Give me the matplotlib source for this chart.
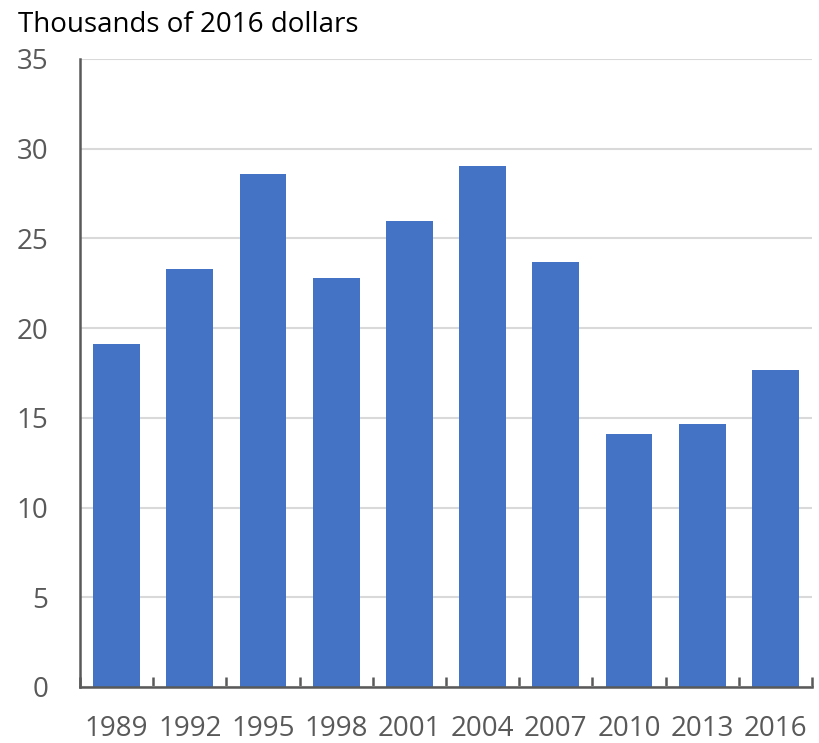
import numpy as np
import matplotlib.pyplot as plt

plt.rcParams['font.family'] = ['Open Sans', 'DejaVu Sans']

# Values (thousands of 2016 dollars)
years = ['1989', '1992', '1995', '1998', '2001', '2004', '2007', '2010', '2013', '2016']
values = [19.1, 23.3, 28.6, 22.8, 25.95, 29.05, 23.7, 14.1, 14.65, 17.65]
y_ticks = [0, 5, 10, 15, 20, 25, 30, 35]

bar_color = '#4472c4'
axis_color = '#595959'
grid_color = '#d9d9d9'

fig = plt.figure(figsize=(8.19, 7.43), dpi=100)
ax = fig.add_axes([0.0977, 0.0754, 0.8937, 0.8452])

x = np.arange(len(years))
ax.bar(x, values, width=0.64, color=bar_color, zorder=2)

ax.set_xlim(-0.5, len(years) - 0.5)
ax.set_ylim(0, 35)
ax.set_yticks(y_ticks)
ax.set_yticklabels([str(t) for t in y_ticks])
ax.set_xticks(x)
ax.set_xticklabels(years)
ax.set_xticks(np.arange(len(years) + 1) - 0.5, minor=True)

ax.grid(axis='y', color=grid_color, linewidth=1.5, zorder=0)
for s in ['top', 'right']:
    ax.spines[s].set_visible(False)
for s in ['left', 'bottom']:
    ax.spines[s].set_color(axis_color)
    ax.spines[s].set_linewidth(1.8)

ax.tick_params(axis='y', length=0, pad=23, labelsize=20, labelcolor=axis_color)
ax.tick_params(axis='x', which='major', length=0, pad=20, labelsize=20, labelcolor=axis_color)
ax.tick_params(axis='x', which='minor', direction='in', length=7, width=1.8, color=axis_color)

fig.text(0.022, 0.957, 'Thousands of 2016 dollars', fontsize=20, color='black', va='baseline')

fig.savefig('out.png', dpi=100)
